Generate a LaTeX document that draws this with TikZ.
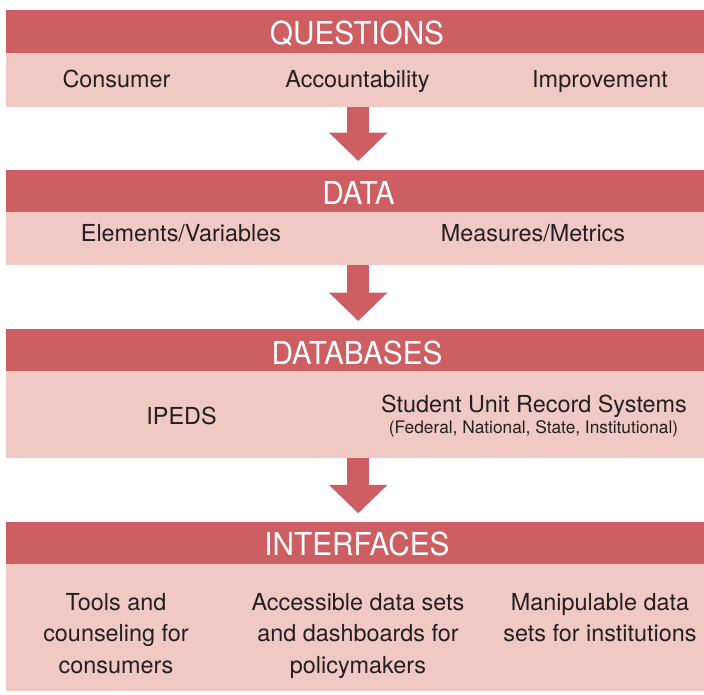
\documentclass[tikz,border=0pt]{standalone}
\usepackage{fontspec}
\setmainfont{TeX Gyre Heros}
\newfontfamily\hdfont[FakeStretch=0.94]{TeX Gyre Heros}
\usetikzlibrary{arrows.meta,calc}
\definecolor{hdred}{RGB}{205,95,98}
\definecolor{bdpink}{RGB}{240,201,196}
\definecolor{txtc}{RGB}{35,31,32}
\begin{document}
\begin{tikzpicture}[x=1pt,y=-1pt,
  band/.style={draw=none, anchor=north west, inner sep=0pt, minimum width=698pt},
  hdrband/.style={band, fill=hdred, minimum height=#1},
  bodyband/.style={band, fill=bdpink, minimum height=#1},
  hdtext/.style={anchor=base, inner sep=0pt, text=white, font=\hdfont\fontsize{31.6}{36}\selectfont},
  bdtext/.style={anchor=base, inner sep=0pt, text=txtc, font=\fontsize{23.4}{31.7}\selectfont},
  smtext/.style={anchor=base, inner sep=0pt, text=txtc, font=\fontsize{17.3}{20}\selectfont},
  multitext/.style={anchor=north, inner sep=0pt, align=center, text=txtc, font=\fontsize{23.4}{31.7}\selectfont},
  flow/.style={draw=hdred, line width=22pt, -{Triangle[width=57pt,length=28.5pt]}}
]
\useasboundingbox (0,0) rectangle (704,694);
% bands
\node[hdrband=42.7pt] (h1) at (6,10) {};
\node[bodyband=54pt] (b1) at (6,52.7) {};
\node[hdrband=41.7pt] (h2) at (6,170) {};
\node[bodyband=52.6pt] (b2) at (6,211.7) {};
\node[hdrband=41.7pt] (h3) at (6,329) {};
\node[bodyband=86.6pt] (b3) at (6,370.7) {};
\node[hdrband=42pt] (h4) at (6,522) {};
\node[bodyband=127pt] (b4) at (6,564) {};
% arrows
\coordinate (a1) at ($(b1.south)+(3,0)$);
\coordinate (t1) at ($(h2.north)+(3,-9)$);
\coordinate (a2) at ($(b2.south)+(3,0)$);
\coordinate (t2) at ($(h3.north)+(3,-8)$);
\coordinate (a3) at ($(b3.south)+(3,0)$);
\coordinate (t3) at ($(h4.north)+(3,-8.7)$);
\draw[flow] (a1) -- (t1);
\draw[flow] (a2) -- (t2);
\draw[flow] (a3) -- (t3);
% header texts
\node[hdtext] (q) at (357,44.3) {QUESTIONS};
\node[hdtext] (d) at (358.5,204.3) {DATA};
\node[hdtext] (db) at (357,364) {DATABASES};
\node[hdtext] (itf) at (357,555) {INTERFACES};
% body texts
\node[bdtext] (c1) at (116.5,87.3) {Consumer};
\node[bdtext] (c2) at (357.5,87.3) {Accountability};
\node[bdtext] (c3) at (600,87.3) {Improvement};
\node[bdtext] (e1) at (181,241.7) {Elements/Variables};
\node[bdtext] (e2) at (533,241.7) {Measures/Metrics};
\node[bdtext] (ip) at (181.5,424) {IPEDS};
\node[bdtext] (su) at (534,412.7) {Student Unit Record Systems};
\node[smtext] (fe) at (533.5,433.8) {(Federal, National, State, Institutional)};
\node[multitext] (i1) at (116,593) {Tools and\\counseling for\\consumers};
\node[multitext] (i2) at (358,593) {Accessible data sets\\and dashboards for\\policymakers};
\node[multitext] (i3) at (600,593) {Manipulable data\\sets for institutions};
\end{tikzpicture}
\end{document}
